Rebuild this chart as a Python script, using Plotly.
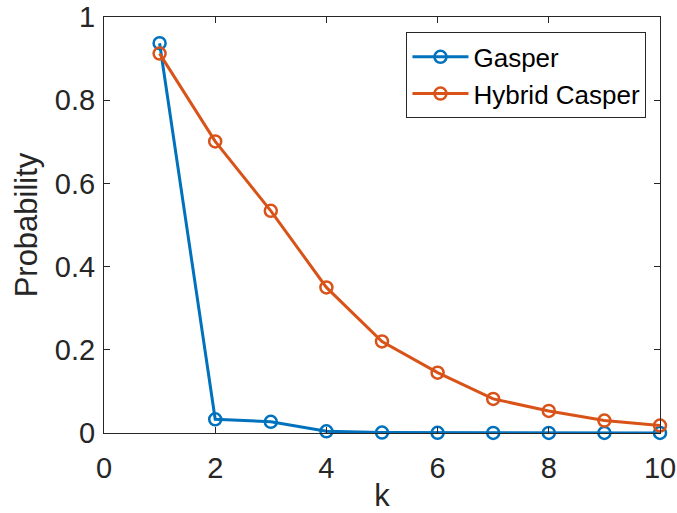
import plotly.graph_objects as go

k = [1, 2, 3, 4, 5, 6, 7, 8, 9, 10]
gasper = [0.937, 0.033, 0.027, 0.004, 0.001, 0.0005, 0.0003, 0.0002, 0.0001, 0.0001]
hybrid = [0.912, 0.701, 0.534, 0.350, 0.220, 0.145, 0.082, 0.053, 0.030, 0.018]

BLUE = "#0072BD"
ORANGE = "#D95319"
AX = "#262626"
FONT = "Liberation Sans"

fig = go.Figure()
for name, ys, col in [("Gasper", gasper, BLUE), ("Hybrid Casper", hybrid, ORANGE)]:
    fig.add_trace(go.Scatter(
        x=k, y=ys, name=name, mode="lines+markers",
        line=dict(color=col, width=3),
        marker=dict(symbol="circle-open", size=12, color=col, line=dict(width=2.5, color=col)),
        cliponaxis=False,
    ))

axis_common = dict(
    showline=True, linecolor=AX, linewidth=1, mirror="ticks",
    ticks="inside", ticklen=6, tickcolor=AX, tickwidth=1,
    showgrid=False, zeroline=False, automargin=False,
    tickfont=dict(family=FONT, size=29, color=AX),
)
fig.update_layout(
    width=677, height=513,
    margin=dict(l=104, r=17, t=17, b=80),
    paper_bgcolor="white", plot_bgcolor="white",
    font=dict(family=FONT, color=AX),
    xaxis=dict(range=[0, 10], tickvals=[0, 2, 4, 6, 8, 10], ticklabelstandoff=9,
               title=dict(text="k", font=dict(family=FONT, size=31, color=AX), standoff=4),
               **axis_common),
    yaxis=dict(range=[0, 1], tickvals=[0, 0.2, 0.4, 0.6, 0.8, 1],
               ticktext=["0", "0.2", "0.4", "0.6", "0.8", "1"], ticklabelstandoff=2,
               title=dict(text="Probability", font=dict(family=FONT, size=31, color=AX), standoff=8),
               **axis_common),
    legend=dict(x=0.544, y=0.963, xanchor="left", yanchor="top",
                bgcolor="white", bordercolor=AX, borderwidth=1,
                font=dict(family=FONT, size=26, color="black"),
                itemwidth=56, tracegroupgap=0),
    showlegend=True,
)
fig.write_html("out.html")
